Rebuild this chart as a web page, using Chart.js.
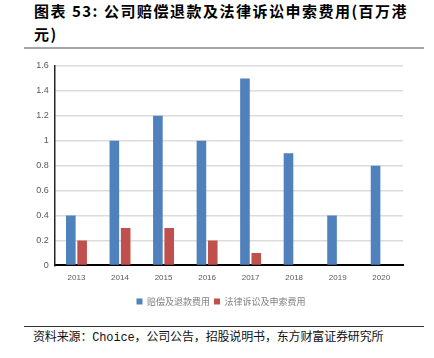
<!DOCTYPE html>
<html><head><meta charset="utf-8">
<script src="https://cdn.jsdelivr.net/npm/chart.js@4"></script>
<style>
html,body{margin:0;padding:0;background:#fff;width:434px;height:358px;overflow:hidden;position:relative;}
#title{position:absolute;left:34px;top:-1px;font-family:"Noto Sans CJK SC";font-weight:bold;font-size:15px;line-height:23px;letter-spacing:1.5px;color:#000;white-space:nowrap;}
#rule1{position:absolute;left:24px;top:47px;width:400px;height:2px;background:#a6a6a6;}
#wrap{position:absolute;left:0;top:50px;width:434px;height:266px;}
#rule2{position:absolute;left:24px;top:326px;width:400px;height:1px;background:#333;}
#source{position:absolute;left:33px;top:330px;font-family:"Liberation Mono","Noto Sans CJK SC";font-size:12px;line-height:16px;letter-spacing:-0.15px;color:#111;white-space:nowrap;}
</style></head>
<body>
<div id="title">图表 53: 公司赔偿退款及法律诉讼申索费用(百万港<br>元)</div>
<div id="rule1"></div>
<div id="wrap"><canvas id="c" width="434" height="266"></canvas></div>
<div id="rule2"></div>
<div id="source">资料来源：Choice，公司公告，招股说明书，东方财富证券研究所</div>
<script>
const categories = ['2013','2014','2015','2016','2017','2018','2019','2020'];
const refundFees = [0.4, 1.0, 1.2, 1.0, 1.5, 0.9, 0.4, 0.8];
const legalFees = [0.2, 0.3, 0.3, 0.2, 0.1, 0, 0, 0];
const seriesNames = ['赔偿及退款费用', '法律诉讼及申索费用'];
const yTickLabels = ['0','0.2','0.4','0.6','0.8','1','1.2','1.4','1.6'];

new Chart(document.getElementById('c'), {
  type: 'bar',
  data: {
    labels: categories,
    datasets: [
      { label: seriesNames[0], data: refundFees, backgroundColor: '#4f81bd', borderWidth: 0, categoryPercentage: 0.52, barPercentage: 0.85 },
      { label: seriesNames[1], data: legalFees, backgroundColor: '#c0504d', borderWidth: 0, categoryPercentage: 0.52, barPercentage: 0.85 }
    ]
  },
  options: {
    responsive: false,
    animation: false,
    layout: { padding: { left: 8, right: 0, top: 16, bottom: 0 } },
    plugins: {
      tooltip: { enabled: false },
      legend: {
        position: 'bottom',
        labels: { boxWidth: 6, boxHeight: 6, padding: 4, color: '#7f7f7f', font: { size: 9, family: 'Noto Sans CJK SC' } }
      }
    },
    scales: {
      x: {
        grid: { display: false },
        border: { display: true, color: '#000', width: 2 },
        ticks: { color: '#595959', font: { size: 8, family: 'Liberation Sans' }, padding: 0, maxRotation: 0 },
        afterFit(s) { s.height += 10; }
      },
      y: {
        min: 0, max: 1.6,
        ticks: { stepSize: 0.2, color: '#595959', font: { size: 9, family: 'Liberation Sans' }, padding: 6,
          callback: (v, i) => yTickLabels[i] },
        grid: { drawTicks: false, lineWidth: 1.5, color: (ctx) => ctx.index === 0 ? 'rgba(0,0,0,0)' : '#dcdcdc' },
        border: { display: true, color: '#262626', width: 1.5 },
        afterFit(s) { s.width = 46.7; }
      },
      yRight: {
        position: 'right', display: true,
        grid: { display: false }, ticks: { display: false }, border: { display: false },
        afterFit(s) { s.width = 31; }
      }
    }
  }
});
</script>
</body></html>
